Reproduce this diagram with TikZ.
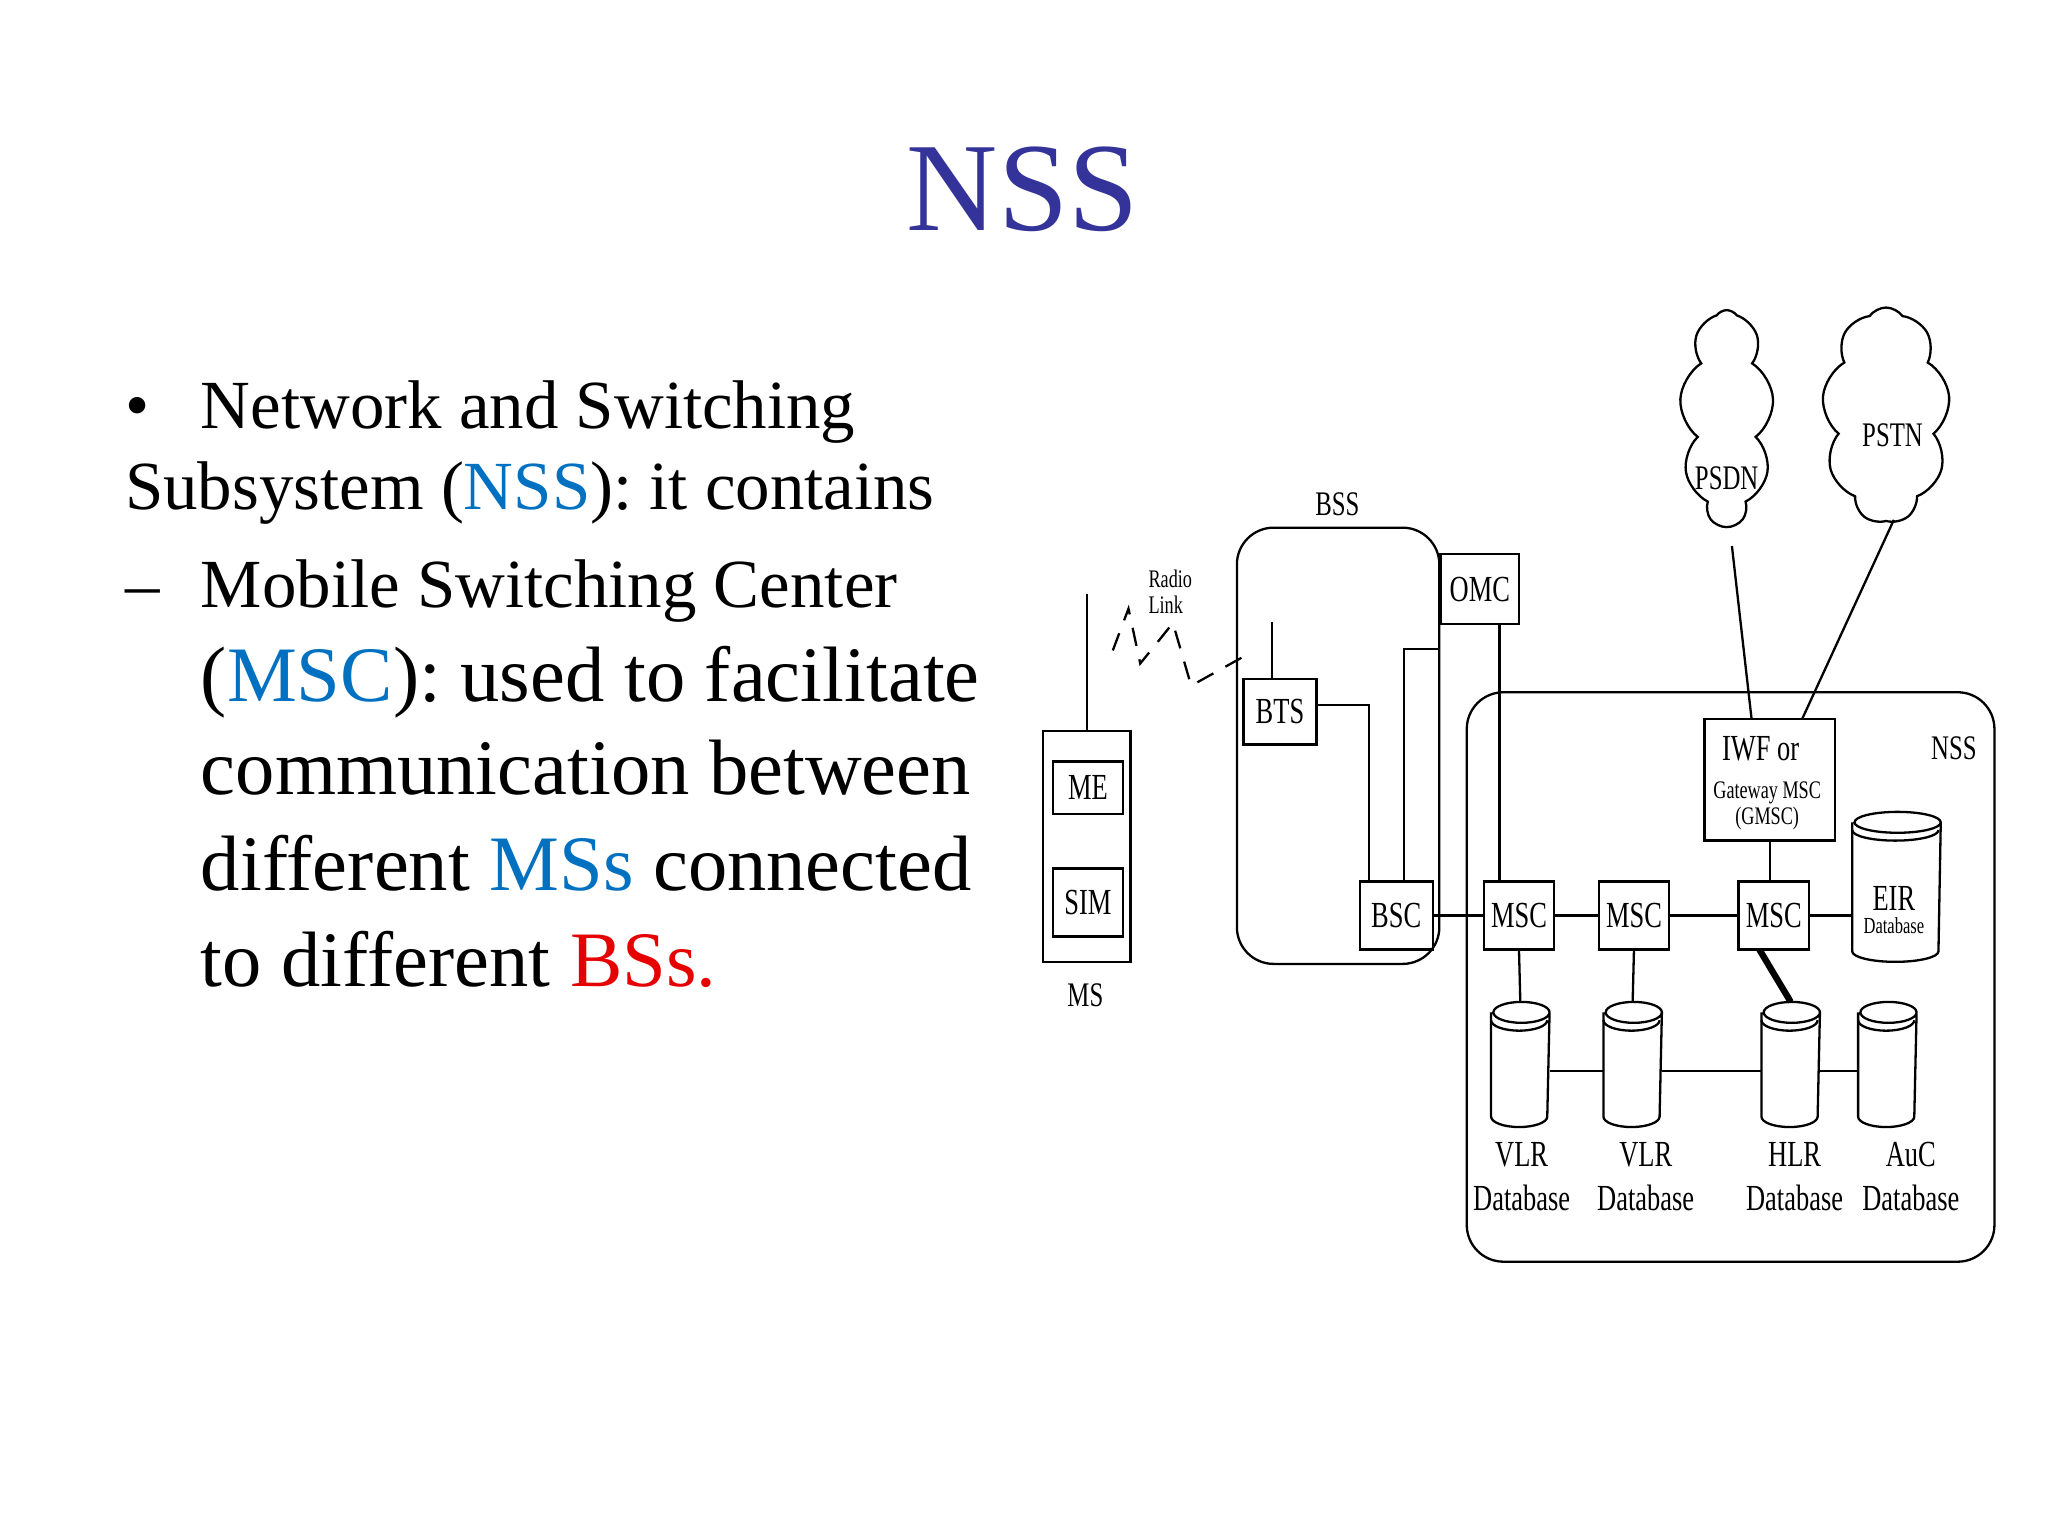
\documentclass[tikz,border=0pt]{standalone}
\usepackage{fontspec}
\setmainfont{Liberation Serif}
\usetikzlibrary{shapes.symbols}
\definecolor{titleblue}{RGB}{51,51,153}
\definecolor{termblue}{RGB}{0,112,192}
\definecolor{termred}{RGB}{230,0,0}
\newcommand\nrw[1]{\scalebox{0.72}[1]{#1}}
% database cylinder: name, x, y, width (cm), height (cm)
\newcommand\dbc[5]{%
  \node[minimum width=#4cm,minimum height=#5cm,inner sep=0pt] (#1) at (#2,#3) {};
  \draw[fill=white] ([yshift=-0.08cm]#1.north west) -- ([yshift=0.08cm]#1.south west)
    arc[start angle=180,end angle=360,x radius=#4cm/2,y radius=0.08cm]
    -- ([yshift=-0.08cm]#1.north east)
    arc[start angle=0,end angle=180,x radius=#4cm/2,y radius=0.08cm]
    arc[start angle=180,end angle=360,x radius=#4cm/2,y radius=0.08cm];
  \draw ([yshift=-0.14cm]#1.north west)
    arc[start angle=180,end angle=360,x radius=#4cm/2,y radius=0.08cm];}
\begin{document}
\begin{tikzpicture}[x=0.01cm,y=-0.01cm,line width=0.5pt,
  box/.style={draw,inner sep=0pt,font=\fontsize{8}{8}\selectfont},
  lbl/.style={inner sep=0pt,font=\fontsize{7.5}{7.5}\selectfont},
  small/.style={inner sep=0pt,font=\fontsize{5.5}{5.5}\selectfont},
  net/.style={draw,cloud,cloud puffs=9,cloud puff arc=110,inner sep=0pt},
  txt/.style={anchor=base west,inner sep=0pt}]
\useasboundingbox (0,0) rectangle (1568,1176);
% title and text
\node[text=titleblue,font=\fontsize{27.5}{30}\selectfont] (title) at (783,145) {NSS};
\begin{scope}[font=\fontsize{15}{18}\selectfont]
\node[txt] (b1) at (95,328) {•};
\node[txt] (t1) at (153,328) {Network and Switching};
\node[txt] (t2) at (95,390) {Subsystem (\textcolor{termblue}{NSS}): it contains};
\node[txt] (d1) at (95,465) {–};
\node[txt] (t3) at (153,465) {Mobile Switching Center};
\end{scope}
\begin{scope}[font=\fontsize{17.1}{20}\selectfont]
\node[txt] (t4) at (153,537) {(\textcolor{termblue}{MSC}): used to facilitate};
\node[txt] (t5) at (153,608) {communication between};
\node[txt] (t6) at (153,682) {different \textcolor{termblue}{MSs} connected};
\node[txt] (t7) at (153,755) {to different \textcolor{termred}{BSs.}};
\end{scope}
% MS
\node[box,minimum width=0.67cm,minimum height=1.77cm] (ms) at (832,648) {};
\node[box,minimum width=0.54cm,minimum height=0.40cm] (me) at (833,603) {\nrw{ME}};
\node[box,minimum width=0.54cm,minimum height=0.52cm] (sim) at (833,691) {\nrw{SIM}};
\coordinate (msant) at (832,455);
\draw (msant) -- (msant |- ms.north);
\node[lbl] (mslbl) at (831,762) {\nrw{MS}};
% radio link
\draw[dashed,dash pattern=on 4pt off 3pt] (852,498) -- (864,466) -- (873,508) -- (886,492) -- (898,477) -- (912,525) -- (957,500);
\node[small,align=left] (radio) at (896,453) {\nrw{Radio}\\\nrw{Link}};
% BSS
\draw[rounded corners=8] (947,404) rectangle (1102,738);
\node[lbl] (bsslbl) at (1024,386) {\nrw{BSS}};
\node[box,minimum width=0.60cm,minimum height=0.54cm] (omc) at (1133,451) {\nrw{OMC}};
\node[box,minimum width=0.56cm,minimum height=0.50cm] (bts) at (980,545) {\nrw{BTS}};
\coordinate (btsant) at (974,476);
\draw (btsant) -- (btsant |- bts.north);
\node[box,minimum width=0.56cm,minimum height=0.52cm] (bsc) at (1069,701) {\nrw{BSC}};
\draw (bts.east |- 0,540) -| (1048,675);
\coordinate (bssedge) at (1102,497);
\draw (1075,675) |- (bssedge);
% NSS
\draw[rounded corners=8] (1123,530) rectangle (1527,966);
\node[lbl] (nsslbl) at (1496,573) {\nrw{NSS}};
\node[box,minimum width=0.54cm,minimum height=0.52cm] (msc1) at (1163,701) {\nrw{MSC}};
\node[box,minimum width=0.54cm,minimum height=0.52cm] (msc2) at (1251,701) {\nrw{MSC}};
\node[box,minimum width=0.54cm,minimum height=0.52cm] (msc3) at (1358,701) {\nrw{MSC}};
\node[box,minimum width=1.00cm,minimum height=0.93cm] (iwf) at (1355,597) {};
\node[inner sep=0pt,font=\fontsize{8}{8}\selectfont] (iwf1) at (1348,573) {\nrw{IWF or}};
\node[small,align=center] (iwf2) at (1353,617) {\nrw{Gateway MSC}\\\nrw{(GMSC)}};
\draw (1148,478) -- (1148,675);
\draw (iwf.south) -- (msc3.north -| iwf.south);
% databases
\dbc{eir}{1452}{679}{0.66}{1.13}
\node[inner sep=0pt,align=center,font=\fontsize{8}{6}\selectfont] (eirl) at (1450,697) {\nrw{EIR}\\[-1pt]{\fontsize{5}{5}\selectfont\nrw{Database}}};
\dbc{vlr1}{1164}{815}{0.43}{0.94}
\dbc{vlr2}{1250}{815}{0.43}{0.94}
\dbc{hlr}{1371}{815}{0.43}{0.94}
\dbc{auc}{1445}{815}{0.43}{0.94}
\draw (bsc.east) -- (msc1.west) (msc1.east) -- (msc2.west) (msc2.east) -- (msc3.west) (msc3.east) -- (eir.west |- msc3.east);
\draw (msc1.south) -- (vlr1.north) (msc2.south) -- (vlr2.north);
\draw[line width=1.4pt] (1347,727) -- (hlr.north);
\draw (vlr1.east |- 0,820) -- (vlr2.west |- 0,820) (vlr2.east |- 0,820) -- (hlr.west |- 0,820) (hlr.east |- 0,820) -- (auc.west |- 0,820);
\begin{scope}[font=\fontsize{8}{9.5}\selectfont]
\node[inner sep=0pt,align=center] (l1) at (1165,901) {\nrw{VLR}\\\nrw{Database}};
\node[inner sep=0pt,align=center] (l2) at (1260,901) {\nrw{VLR}\\\nrw{Database}};
\node[inner sep=0pt,align=center] (l3) at (1374,901) {\nrw{HLR}\\\nrw{Database}};
\node[inner sep=0pt,align=center] (l4) at (1463,901) {\nrw{AuC}\\\nrw{Database}};
\end{scope}
% clouds
\node[net,minimum width=0.72cm,minimum height=1.65cm] (psdn) at (1322,320) {};
\node[lbl] (psdnl) at (1322,366) {\nrw{PSDN}};
\node[net,minimum width=0.98cm,minimum height=1.65cm] (pstn) at (1444,318) {};
\node[lbl] (pstnl) at (1449,333) {\nrw{PSTN}};
\draw (1326,418) -- (1341,550);
\draw (1450,398) -- (1380,550);
\end{tikzpicture}
\end{document}
